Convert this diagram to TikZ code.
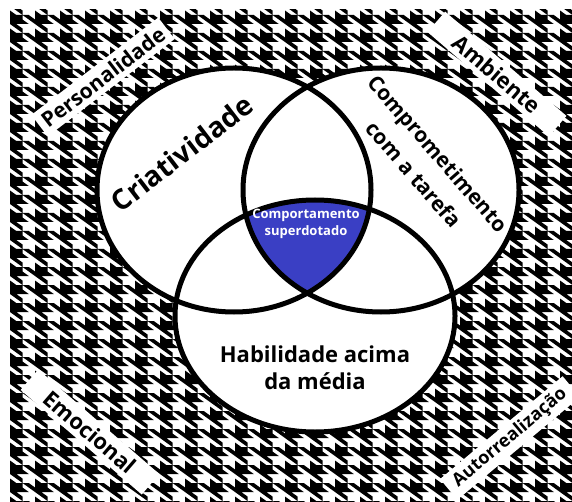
\documentclass[tikz,border=0pt]{standalone}
\usepackage{fontspec}
\setmainfont{Open Sans}
\definecolor{giftblue}{RGB}{58,63,196}
\tikzset{
  ring/.style={line width=5pt, draw=black},
  cornerbox/.style={fill=white, inner sep=0pt, minimum width=160pt, minimum height=27pt, font=\bfseries\fontsize{21}{24}\selectfont},
  bigtext/.style={font=\bfseries\fontsize{28}{32}\selectfont, align=center},
}
\begin{document}
\begin{tikzpicture}[x=1pt,y=1pt]
\useasboundingbox (0,0) rectangle (572,501);
\fill[white] (0,0) rectangle (572,501);
% houndstooth background
\begin{scope}
\clip (10,0) rectangle (572,491);
\foreach \i in {0,...,23}{
  \foreach \j in {0,...,28}{
    \begin{scope}[shift={(10+\i*25,\j*18)}, xscale=6.25, yscale=-4.5]
      \fill[black] (0,0) rectangle (2,2)
        (2,1)--(3,2)--(2,2)--cycle
        (0,2)--(1,2)--(2,3)--(2,4)--cycle
        (0,3)--(1,4)--(0,4)--cycle
        (2,0)--(3,0)--(4,1)--(4,2)--cycle;
    \end{scope}
  }
}
\end{scope}
% circles
\fill[white] (234,311) ellipse [x radius=137, y radius=122];
\fill[white] (381,311) ellipse [x radius=138, y radius=122];
\fill[white] (315,185) ellipse [x radius=140, y radius=116];
\begin{scope}
  \clip (234,311) ellipse [x radius=137, y radius=122];
  \clip (381,311) ellipse [x radius=138, y radius=122];
  \fill[giftblue] (315,185) ellipse [x radius=140, y radius=116];
\end{scope}
\draw[ring] (234,311) ellipse [x radius=137, y radius=122];
\draw[ring] (381,311) ellipse [x radius=138, y radius=122];
\draw[ring] (315,185) ellipse [x radius=140, y radius=116];
% labels
\node[bigtext, rotate=37.5] (cri) at (182,348) {Criatividade};
\node[font=\bfseries\fontsize{21}{32}\selectfont, align=center, rotate=-49] (com) at (426,337) {Comprometimento\\com a tarefa};
\node[font=\bfseries\fontsize{13}{17}\selectfont, align=center, text=white] (sup) at (306,277) {Comportamento\\superdotado};
\node[font=\bfseries\fontsize{22}{27}\selectfont, align=center] (hab) at (315,133) {Habilidade acima\\da média};
% corner boxes
\node[cornerbox, rotate=37.5] (per) at (103,424) {Personalidade};
\node[cornerbox, rotate=-40.7, font=\bfseries\fontsize{22}{24}\selectfont] (amb) at (497,427) {Ambiente};
\node[cornerbox, rotate=-40.8, font=\bfseries\fontsize{22}{24}\selectfont] (emo) at (90,69) {Emocional};
\node[cornerbox, rotate=40, font=\bfseries\fontsize{18}{22}\selectfont] (aut) at (510,63) {Autorrealização};
\end{tikzpicture}
\end{document}
